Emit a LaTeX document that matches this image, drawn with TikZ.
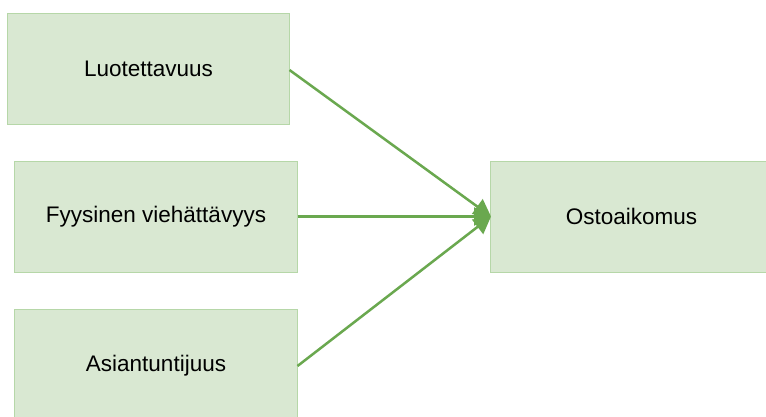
\documentclass[tikz,border=0pt]{standalone}
\usepackage{fontspec}
\setmainfont{Liberation Sans}
\usetikzlibrary{arrows.meta}
\definecolor{boxfill}{HTML}{D9E8D2}
\definecolor{boxline}{HTML}{B6D7A8}
\definecolor{arrowc}{HTML}{6AA84F}
\tikzset{
  factor/.style={draw=boxline, fill=boxfill, line width=1bp, inner sep=0pt,
    font=\fontsize{22.5bp}{27bp}\selectfont, text=black},
  conn/.style={draw=arrowc, line width=2.5bp, -{Triangle[length=17bp,width=18bp]}}
}
\begin{document}
\begin{tikzpicture}[x=1bp,y=-1bp]
\useasboundingbox (0,0) rectangle (766,416);
\clip (0,0) rectangle (766,416);
\fill[white] (0,0) rectangle (766,416);
\node[factor, minimum width=281bp, minimum height=111bp] (l) at (148.5,68.5) {Luotettavuus};
\node[factor, minimum width=282bp, minimum height=111bp] (f) at (156,216.5) {Fyysinen viehättävyys};
\node[factor, minimum width=282bp, minimum height=114bp] (a) at (156,366) {Asiantuntijuus};
\node[factor, minimum width=282bp, minimum height=111bp] (o) at (631.5,216.5) {Ostoaikomus};
\coordinate (tip) at (491,216.5);
\draw[conn] (l.east |- 0,70) -- (tip);
\draw[conn] (f.east) -- (tip);
\draw[conn] (a.east) -- (tip);
\end{tikzpicture}
\end{document}
